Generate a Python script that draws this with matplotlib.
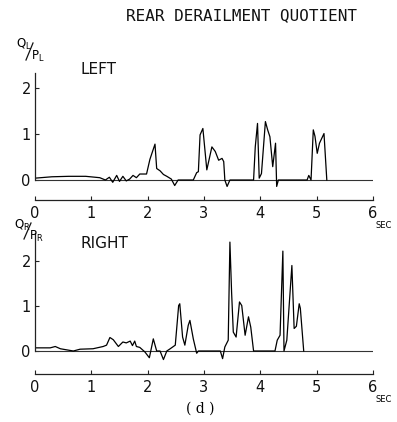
import matplotlib
matplotlib.use("Agg")
import matplotlib.pyplot as plt
from matplotlib.lines import Line2D

plt.rcParams['font.family'] = ['DejaVu Sans']

# LEFT (top) panel readings
left_t = [0, 0.3, 0.6, 0.9, 1.15, 1.25, 1.32, 1.38, 1.45, 1.5, 1.56, 1.62, 1.68, 1.74, 1.8,
          1.86, 1.98, 2.04, 2.1, 2.13, 2.16, 2.22, 2.28, 2.34, 2.42, 2.48, 2.54, 2.81, 2.87,
          2.9, 2.93, 2.98, 3.05, 3.14, 3.2, 3.26, 3.32, 3.35, 3.37, 3.41, 3.46, 3.88, 3.91,
          3.95, 3.98, 4.02, 4.09, 4.13, 4.17, 4.22, 4.27, 4.29, 4.32, 4.83, 4.86, 4.9, 4.94,
          4.97, 5.01, 5.05, 5.13, 5.18]
left_q = [0.04, 0.07, 0.08, 0.08, 0.05, 0.0, 0.06, -0.05, 0.1, -0.03, 0.08, -0.02, 0.02, 0.1, 0.05,
          0.13, 0.13, 0.45, 0.67, 0.78, 0.25, 0.2, 0.12, 0.08, 0.02, -0.12, 0.0, 0.0, 0.16,
          0.18, 0.98, 1.12, 0.22, 0.72, 0.62, 0.43, 0.47, 0.4, 0.0, -0.14, 0.0, 0.0, 0.72,
          1.23, 0.04, 0.14, 1.27, 1.09, 0.94, 0.29, 0.8, -0.14, 0.0, 0.0, 0.1, 0.0, 1.09,
          0.95, 0.58, 0.8, 1.01, 0.0]

# RIGHT (bottom) panel readings
right_t = [0, 0.27, 0.36, 0.45, 0.68, 0.8, 1.03, 1.21, 1.27, 1.33, 1.39, 1.48, 1.56, 1.62, 1.69,
           1.73, 1.77, 1.8, 1.86, 1.95, 2.03, 2.1, 2.16, 2.22, 2.28, 2.34, 2.4, 2.49, 2.55, 2.57,
           2.62, 2.66, 2.72, 2.75, 2.81, 2.87, 2.9, 3.29, 3.33, 3.37, 3.43, 3.46, 3.49, 3.52,
           3.57, 3.63, 3.67, 3.73, 3.79, 3.83, 3.88, 4.26, 4.3, 4.35, 4.4, 4.42, 4.47, 4.56,
           4.6, 4.64, 4.69, 4.71, 4.77]
right_q = [0.07, 0.07, 0.1, 0.05, 0.0, 0.04, 0.05, 0.1, 0.13, 0.3, 0.25, 0.1, 0.2, 0.18, 0.22,
           0.12, 0.22, 0.1, 0.08, -0.02, -0.15, 0.27, 0.0, 0.0, -0.19, 0.0, 0.05, 0.13, 1.01, 1.05,
           0.31, 0.13, 0.57, 0.68, 0.27, -0.05, 0.0, 0.0, -0.17, 0.09, 0.24, 2.42, 1.3, 0.42,
           0.31, 1.09, 1.01, 0.35, 0.76, 0.53, 0.0, 0.0, 0.24, 0.35, 2.22, 0.0, 0.24, 1.9,
           0.5, 0.55, 1.05, 0.95, 0.0]

x_ticks = [0, 1, 2, 3, 4, 5, 6]
y_ticks = [0, 1, 2]

W, H = 397, 422
fig = plt.figure(figsize=(W / 100, H / 100), dpi=100)


def ax_at(left, top, right, bottom):
    return fig.add_axes([left / W, 1 - bottom / H, (right - left) / W, (bottom - top) / H])


def ftext(x, y, s, **kw):
    fig.text(x / W, 1 - y / H, s, **kw)


def fline(x1, y1, x2, y2):
    fig.add_artist(Line2D([x1 / W, x2 / W], [1 - y1 / H, 1 - y2 / H],
                          transform=fig.transFigure, color='#111111', lw=0.9))


def style(ax, ylo, yhi):
    ax.set_xlim(0, 6)
    ax.set_ylim(ylo, yhi)
    ax.patch.set_alpha(0)
    for s in ['top', 'right']:
        ax.spines[s].set_visible(False)
    ax.spines['left'].set_bounds(0, yhi)
    ax.spines['bottom'].set_bounds(0, 6)
    for s in ['left', 'bottom']:
        ax.spines[s].set_linewidth(0.9)
        ax.spines[s].set_color('#222222')
    ax.set_xticks(x_ticks)
    ax.set_yticks(y_ticks)
    ax.tick_params(axis='both', direction='in', length=3, width=0.8, colors='#222222',
                   labelsize=10.5, labelcolor='#111111')
    ax.tick_params(axis='x', pad=4)
    ax.tick_params(axis='y', pad=3)
    ax.axhline(0, xmin=0, xmax=1, color='#333333', lw=0.8)


# top panel: zero at y=180, 46 px/unit, axis line y=200, top y=73
ax1 = ax_at(35, 73, 373, 200)
style(ax1, -20 / 46, (180 - 73) / 46)
ax1.plot(left_t, left_q, color='black', lw=0.9)

# bottom panel: zero at y=351, 45 px/unit, axis line y=374, top y=233
ax2 = ax_at(35, 233, 373, 374)
style(ax2, -23 / 45, (351 - 233) / 45)
ax2.plot(right_t, right_q, color='black', lw=0.9)

ftext(241, 16, 'REAR DERAILMENT QUOTIENT', family='DejaVu Sans Mono', fontsize=11.5,
      ha='center', va='center', color='#111111')
ftext(80, 70, 'LEFT', fontsize=11, ha='left', va='center', color='#111111')
ftext(80, 244, 'RIGHT', fontsize=11, ha='left', va='center', color='#111111')

# y-labels Q/P
ftext(16, 44, r'$\mathregular{Q_L}$', fontsize=8.5, ha='left', va='center')
fline(26, 60, 33, 43)
ftext(31, 56, r'$\mathregular{P_L}$', fontsize=8.5, ha='left', va='center')
ftext(14, 225, r'$\mathregular{Q_R}$', fontsize=8.5, ha='left', va='center')
fline(24, 239, 31, 223)
ftext(29, 236, r'$\mathregular{P_R}$', fontsize=8.5, ha='left', va='center')

ftext(376, 225, 'SEC', fontsize=6, ha='left', va='center')
ftext(376, 399, 'SEC', fontsize=6, ha='left', va='center')

ftext(200, 409, '( d )', family='DejaVu Serif', fontsize=10, ha='center', va='center')

fig.savefig('out.png', dpi=100)
